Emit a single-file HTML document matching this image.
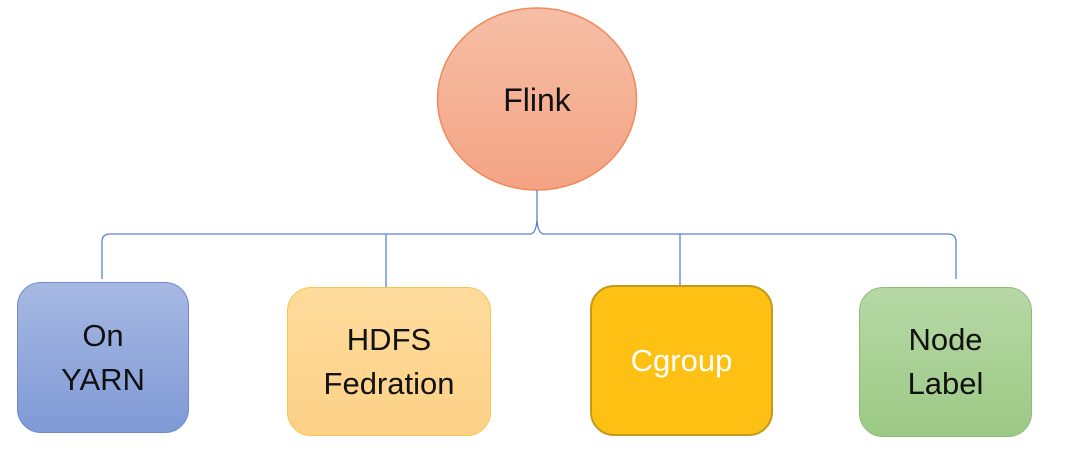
<!DOCTYPE html>
<html><head><meta charset="utf-8"><style>
html,body{margin:0;padding:0;background:#fff;}
body{width:1080px;height:457px;position:relative;overflow:hidden;font-family:"Liberation Sans",sans-serif;}
.b{position:absolute;box-sizing:border-box;border-radius:24px;display:flex;align-items:center;justify-content:center;text-align:center;font-size:31px;line-height:44px;color:#111;}
</style></head><body>
<svg width="1080" height="457" style="position:absolute;left:0;top:0">
<defs>
<linearGradient id="g1" x1="0" y1="0" x2="0" y2="1"><stop offset="0" stop-color="#f6bfa6"/><stop offset="1" stop-color="#f4a384"/></linearGradient>
</defs>
<ellipse cx="537" cy="99" rx="99.5" ry="91" fill="url(#g1)" stroke="#ef8a5c" stroke-width="1.5"/>
<text x="537" y="111" text-anchor="middle" font-family="Liberation Sans" font-size="32" fill="#111">Flink</text>
<path d="M102 279 L102 242 Q102 234 110 234 L530 234 Q536 234 537 220 L537 190 M537 220 Q538 234 544 234 L948 234 Q956 234 956 242 L956 279 M386 234 L386 287 M680 234 L680 285" fill="none" stroke="#5b82cc" stroke-width="1.3"/>
</svg>
<div class="b" style="left:17px;top:282px;width:172px;height:151px;background:linear-gradient(#a7b8e2,#7f9ad6);border:1.5px solid #6e8bd0;">On<br>YARN</div>
<div class="b" style="left:287px;top:287px;width:204px;height:149px;background:linear-gradient(#fedb9c,#fdd187);border:1.5px solid #f9c64a;">HDFS<br>Fedration</div>
<div class="b" style="left:590px;top:285px;width:183px;height:151px;background:#fdc013;border:2px solid #c49a1c;color:#fff;">Cgroup</div>
<div class="b" style="left:859px;top:287px;width:173px;height:150px;background:linear-gradient(#b7d8a6,#9cc985);border:1.5px solid #8dbd77;">Node<br>Label</div>
</body></html>
